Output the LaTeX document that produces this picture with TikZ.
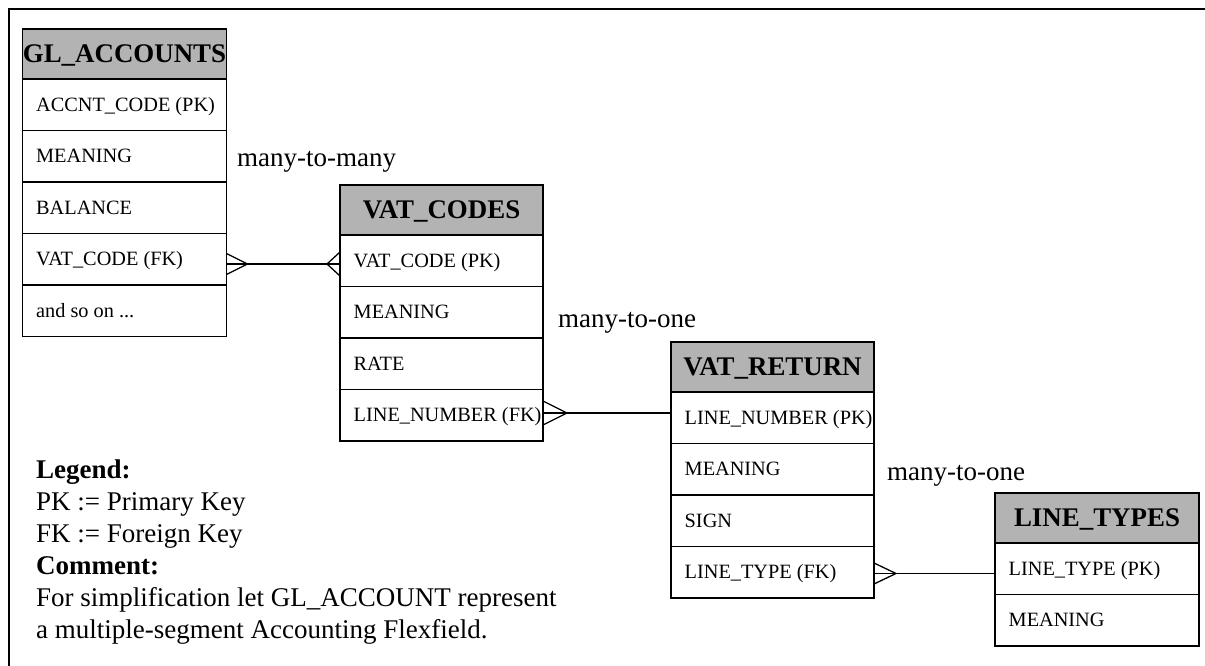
\documentclass[tikz,border=0pt]{standalone}
\usepackage{fontspec}
\setmainfont{Liberation Serif}
\definecolor{hdrgray}{RGB}{179,179,179}
\newcommand\fieldfont{\fontsize{20.3}{24}\selectfont}
\newcommand\titlefont{\fontsize{26.9}{30}\selectfont\bfseries}
\newcommand\notefont{\fontsize{27}{32}\selectfont}

\tikzset{
  cell/.style={draw, line width=1.6pt, minimum width=#1, inner sep=0pt,
               outer sep=0pt, anchor=north west},
  hdr/.style={cell=#1, minimum height=50pt, fill=hdrgray, font=\titlefont,
              text height=17.8pt, text depth=0pt},
  field/.style={cell=#1, minimum height=51.5pt},
  ftext/.style={font=\fieldfont, inner sep=0pt, anchor=west,
                text height=13.4pt, text depth=0pt},
  rel/.style={line width=1.3pt},
  note/.style={font=\notefont, inner sep=0pt, anchor=base west},
}

% entity table: name, x, y (top), width, title, fields
\newcommand\entity[6]{%
  \node[hdr=#4] (#1) at (#2,#3) {#5};
  \foreach \f [count=\i] in {#6} {
    \node[field=#4] (#1-\i) at (#2, #3+50+51.5*\i-51.5) {};
    \node[ftext] (#1-t\i) at ([xshift=13.5pt]#1-\i.west) {\f};
  }%
}

\begin{document}
\begin{tikzpicture}[x=1pt, y=-1pt]
\useasboundingbox (0,0) rectangle (1205,666);

% frame
\draw[line width=2pt] (1206,9) -- (9,9) -- (9,667);

% tables
\entity{gl}{22.5}{29}{204}{GL\_ACCOUNTS}{ACCNT\_CODE (PK),MEANING,BALANCE,VAT\_CODE (FK),{and so on .{}.{}.}}
\entity{vc}{340}{185}{203}{VAT\_CODES}{VAT\_CODE (PK),MEANING,RATE,LINE\_NUMBER (FK)}
\entity{vr}{671}{342}{203}{VAT\_RETURN}{LINE\_NUMBER (PK),MEANING,SIGN,LINE\_TYPE (FK)}
\entity{lt}{995}{493}{204}{LINE\_TYPES}{LINE\_TYPE (PK),MEANING}

% relationship: GL_ACCOUNTS >--< VAT_CODES
\coordinate (c1a) at ([yshift=-4.75pt]gl-4.east);
\coordinate (c1b) at ([yshift=-3.25pt]vc-1.west);
\draw[rel] (c1a) -- (c1b);
\draw[rel] ([yshift=10.5pt]c1a) -- ([xshift=21pt]c1a) -- ([yshift=-10.5pt]c1a);
\draw[rel] ([yshift=12pt]c1b) -- ([xshift=-13pt]c1b) -- ([yshift=-12pt]c1b);

% relationship: VAT_CODES >-- VAT_RETURN
\coordinate (c2a) at ([yshift=2.25pt]vc-4.east);
\coordinate (c2b) at ([yshift=4.75pt]vr-1.west);
\draw[rel] (c2a) -- (c2b);
\draw[rel] ([yshift=12pt]c2a) -- ([xshift=24pt]c2a) -- ([yshift=-12pt]c2a);

% relationship: VAT_RETURN >-- LINE_TYPES
\coordinate (c3a) at ([yshift=-1.25pt]vr-4.east);
\coordinate (c3b) at ([yshift=-4.75pt]lt-1.west);
\draw[rel] (c3a) -- (c3b);
\draw[rel] ([yshift=10.5pt]c3a) -- ([xshift=22pt]c3a) -- ([yshift=-10.5pt]c3a);

% cardinality labels
\node[note] (m1) at (237,167) {many-to-many};
\node[note] (m2) at (558,327) {many-to-one};
\node[note] (m3) at (887,480) {many-to-one};

% legend
\node[note] (lg1) at (36,478) {\textbf{Legend:}};
\node[note] (lg2) at (36,510) {PK := Primary Key};
\node[note] (lg3) at (36,542) {FK := Foreign Key};
\node[note] (lg4) at (36,574) {\textbf{Comment:}};
\node[note] (lg5) at (36,606) {For simplification let GL\_ACCOUNT represent};
\node[note] (lg6) at (36,638) {a multiple-segment Accounting Flexfield.};
\end{tikzpicture}
\end{document}
